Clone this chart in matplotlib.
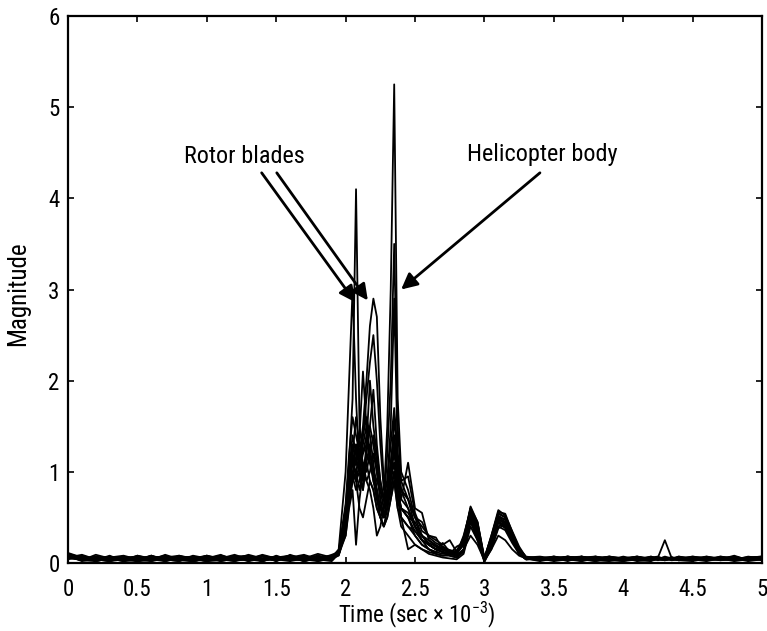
import matplotlib
matplotlib.use('Agg')
import matplotlib.pyplot as plt
import numpy as np

plt.rcParams['font.family'] = ['Roboto Condensed', 'Archivo Narrow', 'PT Sans Narrow',
                               'Arial Narrow', 'Liberation Sans Narrow', 'DejaVu Sans']
plt.rcParams['mathtext.fontset'] = 'custom'
plt.rcParams['mathtext.rm'] = 'Roboto Condensed'

# Time axis (sec x 1e-3): coarse on the quiet parts, fine around the returns
time_ms = [0.0, 0.1, 0.2, 0.3, 0.4, 0.5, 0.6, 0.7, 0.8, 0.9,
           1.0, 1.1, 1.2, 1.3, 1.4, 1.5, 1.6, 1.7, 1.8, 1.9,
           1.95, 2.0, 2.025, 2.05, 2.075, 2.1, 2.125, 2.15, 2.175, 2.2,
           2.225, 2.25, 2.275, 2.3, 2.325, 2.35, 2.375, 2.4, 2.45, 2.5,
           2.55, 2.6, 2.65, 2.7, 2.75, 2.8, 2.85, 2.9, 2.95, 3.0,
           3.05, 3.1, 3.15, 3.2, 3.25, 3.3,
           3.4, 3.5, 3.6, 3.7, 3.8, 3.9, 4.0, 4.1, 4.2, 4.25, 4.3, 4.35,
           4.4, 4.5, 4.6, 4.7, 4.8, 4.9, 5.0]

# Magnitude of each scan, in hundredths
scan_01 = [10, 4, 3, 8, 2, 6, 3, 9, 4, 2, 5, 8, 3, 4, 9, 5, 3, 8, 4, 9,
           12, 60, 110, 180, 410, 150, 120, 140, 110, 90, 80, 60, 50, 70, 90, 110, 80, 60, 50, 30,
           20, 15, 12, 18, 8, 6, 15, 30, 20, 3, 15, 30, 25, 15, 8, 5,
           4, 6, 2, 7, 3, 5, 2, 4, 7, 5, 4, 6, 3, 2, 5, 4, 7, 3, 5]
scan_02 = [6, 3, 9, 5, 2, 3, 8, 4, 2, 7, 5, 9, 3, 6, 2, 8, 3, 5, 10, 6,
           10, 50, 90, 130, 110, 100, 130, 150, 120, 100, 80, 60, 70, 150, 300, 525, 180, 100, 80, 50,
           30, 20, 15, 12, 10, 14, 25, 55, 40, 4, 20, 45, 40, 25, 12, 4,
           5, 2, 4, 7, 5, 3, 6, 2, 4, 5, 3, 4, 7, 4, 2, 5, 3, 7, 5]
scan_03 = [4, 8, 2, 5, 7, 3, 6, 2, 5, 3, 8, 2, 5, 7, 3, 5, 8, 2, 6, 7,
           9, 40, 80, 110, 130, 120, 100, 110, 90, 80, 60, 50, 60, 120, 200, 350, 150, 90, 70, 40,
           25, 20, 15, 22, 12, 10, 20, 50, 35, 2, 25, 50, 45, 28, 10, 5,
           3, 7, 5, 4, 2, 6, 4, 7, 5, 3, 5, 4, 3, 5, 7, 4, 5, 2, 4]
scan_04 = [9, 4, 7, 3, 5, 2, 3, 6, 8, 4, 2, 5, 9, 4, 3, 6, 8, 4, 2, 6,
           15, 100, 200, 300, 180, 100, 80, 110, 130, 90, 70, 50, 40, 60, 80, 100, 70, 50, 40, 35,
           25, 15, 10, 8, 10, 12, 28, 60, 45, 5, 30, 55, 50, 30, 15, 6,
           6, 4, 7, 5, 3, 2, 5, 4, 6, 7, 4, 5, 3, 5, 4, 7, 5, 3, 6]
scan_05 = [7, 3, 2, 6, 8, 4, 2, 7, 3, 5, 8, 4, 2, 7, 5, 3, 6, 9, 4, 2,
           10, 40, 70, 90, 100, 120, 150, 200, 260, 290, 270, 160, 90, 70, 80, 100, 70, 60, 50, 35,
           25, 20, 15, 12, 10, 18, 22, 55, 38, 4, 25, 50, 48, 30, 12, 5,
           5, 7, 3, 5, 4, 7, 5, 3, 2, 5, 4, 6, 4, 7, 5, 3, 4, 6, 4]
scan_06 = [5, 8, 4, 2, 6, 7, 3, 4, 2, 8, 5, 3, 7, 4, 2, 6, 3, 8, 2, 5,
           8, 35, 70, 100, 90, 110, 140, 180, 220, 250, 200, 130, 80, 90, 150, 290, 120, 80, 60, 40,
           30, 25, 18, 15, 12, 10, 30, 58, 42, 3, 22, 48, 42, 28, 14, 6,
           3, 5, 7, 4, 5, 3, 2, 6, 4, 4, 7, 5, 6, 5, 3, 6, 4, 5, 3]
scan_07 = [11, 6, 4, 2, 6, 2, 8, 3, 5, 2, 4, 7, 3, 5, 8, 2, 9, 4, 7, 5,
           11, 45, 90, 120, 160, 130, 110, 90, 100, 120, 100, 70, 50, 60, 90, 130, 90, 70, 110, 60,
           55, 25, 20, 15, 14, 12, 20, 60, 30, 6, 28, 52, 47, 32, 16, 7,
           5, 3, 6, 2, 7, 4, 5, 3, 7, 4, 5, 3, 4, 3, 7, 5, 4, 6, 7]
scan_08 = [8, 2, 5, 7, 3, 6, 4, 2, 8, 5, 2, 3, 6, 2, 8, 4, 2, 5, 8, 3,
           12, 30, 60, 80, 20, 70, 100, 90, 80, 60, 30, 40, 60, 80, 110, 140, 100, 50, 15, 20,
           15, 10, 8, 6, 5, 4, 10, 40, 25, 1, 18, 40, 45, 30, 12, 5,
           2, 5, 4, 7, 3, 5, 4, 5, 3, 4, 3, 5, 4, 6, 4, 5, 2, 4, 6]
scan_09 = [6, 9, 4, 3, 7, 2, 5, 8, 4, 3, 7, 5, 4, 8, 2, 6, 3, 5, 7, 4,
           10, 55, 100, 140, 120, 110, 90, 130, 200, 150, 120, 90, 70, 80, 100, 120, 90, 80, 70, 50,
           40, 30, 25, 20, 25, 12, 25, 62, 45, 5, 30, 58, 52, 35, 18, 6,
           7, 5, 3, 5, 7, 4, 5, 7, 3, 5, 6, 3, 5, 4, 3, 7, 5, 4, 5]
scan_10 = [10, 6, 3, 5, 2, 8, 4, 3, 7, 5, 2, 8, 3, 4, 7, 2, 8, 5, 3, 7,
           9, 35, 75, 95, 80, 90, 110, 100, 120, 140, 110, 80, 60, 70, 100, 110, 80, 60, 50, 45,
           30, 20, 15, 12, 10, 8, 14, 48, 30, 3, 20, 44, 38, 26, 10, 4,
           4, 6, 4, 2, 5, 3, 7, 4, 5, 4, 3, 5, 7, 5, 4, 5, 7, 3, 4]
scan_11 = [5, 4, 7, 5, 3, 4, 8, 2, 6, 7, 3, 4, 8, 2, 5, 7, 4, 3, 8, 5,
           13, 65, 120, 160, 140, 120, 140, 160, 140, 110, 80, 50, 40, 50, 70, 90, 60, 40, 30, 20,
           15, 12, 10, 8, 8, 6, 12, 45, 28, 2, 15, 38, 42, 25, 10, 4,
           6, 3, 7, 5, 2, 5, 4, 6, 3, 5, 4, 6, 3, 5, 3, 4, 7, 4, 5]
scan_12 = [8, 5, 4, 7, 4, 2, 6, 7, 3, 2, 5, 3, 7, 8, 4, 3, 6, 2, 5, 8,
           10, 45, 85, 110, 100, 80, 100, 120, 110, 100, 90, 80, 70, 90, 130, 170, 120, 90, 95, 55,
           35, 30, 28, 15, 12, 10, 22, 52, 40, 4, 24, 48, 44, 30, 14, 5,
           5, 7, 5, 3, 5, 7, 3, 5, 6, 4, 5, 6, 5, 6, 5, 4, 5, 6, 5]
scan_13 = [6, 7, 2, 5, 4, 6, 2, 5, 6, 4, 8, 5, 2, 5, 4, 7, 5, 6, 3, 4,
           10, 40, 75, 100, 110, 140, 210, 150, 120, 100, 70, 60, 50, 70, 100, 160, 110, 70, 60, 40,
           25, 20, 15, 12, 10, 8, 15, 50, 32, 3, 22, 46, 40, 26, 12, 5,
           3, 5, 6, 7, 4, 5, 6, 3, 5, 5, 4, 5, 5, 7, 5, 3, 5, 6, 7]
scan_14 = [9, 4, 6, 5, 7, 4, 5, 4, 5, 2, 5, 6, 4, 9, 5, 4, 7, 2, 6, 5,
           11, 50, 90, 120, 90, 60, 50, 70, 90, 80, 60, 50, 40, 50, 70, 90, 60, 50, 40, 30,
           20, 15, 12, 10, 10, 8, 14, 46, 25, 5, 18, 40, 36, 22, 10, 4,
           5, 4, 5, 6, 7, 5, 3, 5, 5, 6, 25, 5, 5, 5, 4, 5, 6, 4, 5]
scan_15 = [8, 6, 5, 2, 4, 5, 7, 5, 3, 6, 4, 8, 5, 6, 2, 7, 5, 4, 5, 8,
           9, 30, 65, 90, 130, 100, 80, 120, 150, 130, 100, 70, 50, 60, 80, 100, 70, 60, 55, 40,
           30, 22, 18, 14, 12, 10, 24, 56, 44, 3, 26, 54, 50, 32, 14, 5,
           4, 5, 7, 5, 3, 5, 5, 7, 4, 5, 5, 4, 5, 4, 5, 4, 8, 3, 5]
scan_16 = [7, 5, 4, 6, 3, 8, 5, 4, 7, 5, 6, 2, 5, 4, 8, 5, 4, 7, 5, 4,
           10, 45, 80, 100, 90, 100, 120, 130, 150, 190, 130, 90, 70, 80, 110, 140, 100, 80, 70, 50,
           45, 28, 22, 18, 14, 12, 20, 60, 36, 4, 28, 56, 54, 34, 16, 6,
           5, 6, 4, 5, 5, 7, 5, 3, 5, 4, 5, 6, 5, 4, 6, 4, 3, 5, 7]

scans = [scan_01, scan_02, scan_03, scan_04, scan_05, scan_06, scan_07, scan_08,
         scan_09, scan_10, scan_11, scan_12, scan_13, scan_14, scan_15, scan_16]

fig = plt.figure(figsize=(7.67, 6.31), dpi=100)
ax = fig.add_axes([0.0887, 0.1078, 0.9048, 0.8668])

for s in scans:
    ax.plot(time_ms, np.array(s) / 100.0, color='black', lw=1.3)

ax.set_xlim(0, 5)
ax.set_ylim(0, 6)
ax.set_xticks([0, 0.5, 1, 1.5, 2, 2.5, 3, 3.5, 4, 4.5, 5])
ax.set_xticklabels(['0', '0.5', '1', '1.5', '2', '2.5', '3', '3.5', '4', '4.5', '5'])
ax.set_yticks([0, 1, 2, 3, 4, 5, 6])
ax.tick_params(direction='in', length=4, width=1.2, top=True, right=True, labelsize=16.5)
ax.tick_params(axis='x', pad=10.5)
ax.tick_params(axis='y', pad=6)
for sp in ax.spines.values():
    sp.set_linewidth(1.6)

ax.set_xlabel('Time (sec \u00d7 10$^{\\mathregular{\u22123}}$)', fontsize=16.5)
ax.set_ylabel('Magnitude', fontsize=18)
ax.xaxis.set_label_coords(0.5025, -0.0676)
ax.yaxis.set_label_coords(-0.0548, 0.492)

arrow = dict(arrowstyle='-|>', color='black', lw=2, mutation_scale=24, shrinkA=0, shrinkB=0)
ax.text(1.268, 4.46, 'Rotor blades', ha='center', va='center', fontsize=17.5)
ax.annotate('', xy=(2.07, 2.86), xytext=(1.395, 4.28), arrowprops=arrow)
ax.annotate('', xy=(2.16, 2.88), xytext=(1.504, 4.28), arrowprops=arrow)
ax.text(3.415, 4.48, 'Helicopter body', ha='center', va='center', fontsize=17.5)
ax.annotate('', xy=(2.40, 3.0), xytext=(3.40, 4.28), arrowprops=arrow)

fig.savefig('out.png', dpi=100)
